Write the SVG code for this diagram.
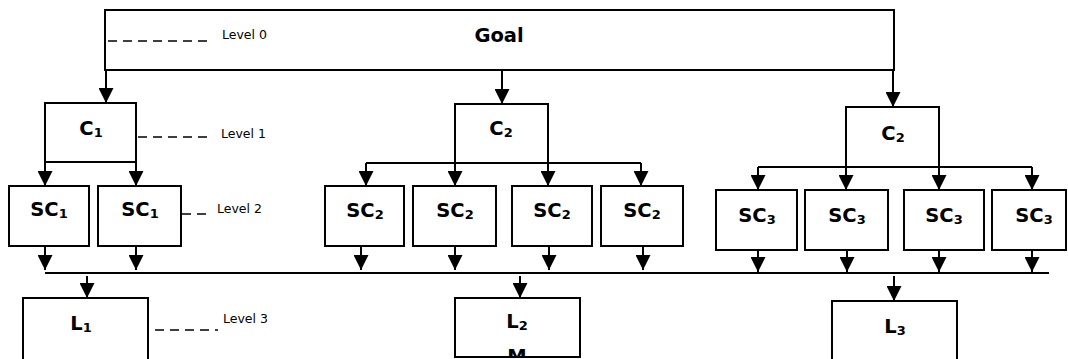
<svg xmlns="http://www.w3.org/2000/svg" width="1068" height="359" viewBox="0 0 1068 359">
<style>
.box{fill:#fff;stroke:#000;stroke-width:2}
.ln{fill:none;stroke:#000;stroke-width:2}
.arr{fill:none;stroke:#000;stroke-width:2;marker-end:url(#ah)}
.dash{fill:none;stroke:#000;stroke-width:1.6;stroke-dasharray:9,6}
.lbl{font-family:"DejaVu Sans",Verdana,sans-serif;font-weight:bold;font-size:19.5px;text-anchor:middle;fill:#000}
.sub{font-size:13px}
.lvl{font-family:"DejaVu Sans",Verdana,sans-serif;font-size:12.5px;fill:#000}
</style>
<defs>
<marker id="ah" markerUnits="userSpaceOnUse" markerWidth="15" markerHeight="15" refX="15" refY="7.5" orient="auto">
<path d="M0,0 L15,7.5 L0,15 z" fill="#000"/>
</marker>
<clipPath id="l2clip"><rect x="456" y="299" width="123" height="57"/></clipPath>
</defs>
<rect x="0" y="0" width="1068" height="359" fill="#fff"/>
<g id="connectors">
<line class="arr" x1="106" y1="70" x2="106" y2="103"/>
<line class="arr" x1="502" y1="70" x2="502" y2="104"/>
<line class="arr" x1="893" y1="70" x2="893" y2="107"/>
<line class="arr" x1="45" y1="162" x2="45" y2="186"/>
<line class="arr" x1="136" y1="162" x2="136" y2="186"/>
<line class="ln" x1="366" y1="163" x2="641" y2="163"/>
<line class="arr" x1="366" y1="163" x2="366" y2="186"/>
<line class="arr" x1="455" y1="163" x2="455" y2="186"/>
<line class="arr" x1="548" y1="163" x2="548" y2="186"/>
<line class="arr" x1="641" y1="163" x2="641" y2="186"/>
<line class="ln" x1="758" y1="167" x2="1032" y2="167"/>
<line class="arr" x1="758" y1="167" x2="758" y2="190"/>
<line class="arr" x1="846" y1="167" x2="846" y2="190"/>
<line class="arr" x1="939" y1="167" x2="939" y2="190"/>
<line class="arr" x1="1032" y1="167" x2="1032" y2="190"/>
<line class="arr" x1="45" y1="246" x2="45" y2="270"/>
<line class="arr" x1="136" y1="246" x2="136" y2="270"/>
<line class="arr" x1="361" y1="246" x2="361" y2="270"/>
<line class="arr" x1="455" y1="246" x2="455" y2="270"/>
<line class="arr" x1="549" y1="246" x2="549" y2="270"/>
<line class="arr" x1="643" y1="246" x2="643" y2="270"/>
<line class="arr" x1="758" y1="250" x2="758" y2="272"/>
<line class="arr" x1="847" y1="250" x2="847" y2="272"/>
<line class="arr" x1="939" y1="250" x2="939" y2="272"/>
<line class="arr" x1="1032" y1="250" x2="1032" y2="272"/>
<line class="ln" x1="45" y1="273" x2="1049" y2="273"/>
<line class="arr" x1="87" y1="276" x2="87" y2="298"/>
<line class="arr" x1="520" y1="276" x2="520" y2="298"/>
<line class="arr" x1="894" y1="276" x2="894" y2="301"/>
</g>
<g id="goal"><rect class="box" x="105" y="10" width="789" height="60"/><text class="lbl" x="499" y="42">Goal</text></g>
<g id="c1"><rect class="box" x="45" y="103" width="91" height="59"/><text class="lbl" x="91" y="135">C<tspan class="sub" dy="2">1</tspan></text></g>
<g id="c2a"><rect class="box" x="455" y="104" width="93" height="59"/><text class="lbl" x="501" y="135">C<tspan class="sub" dy="2">2</tspan></text></g>
<g id="c2b"><rect class="box" x="846" y="107" width="93" height="60"/><text class="lbl" x="893" y="140">C<tspan class="sub" dy="2">2</tspan></text></g>
<g id="sc1a"><rect class="box" x="9" y="186" width="80" height="60"/><text class="lbl" x="49" y="216">SC<tspan class="sub" dy="2">1</tspan></text></g>
<g id="sc1b"><rect class="box" x="98" y="186" width="83" height="60"/><text class="lbl" x="140" y="216">SC<tspan class="sub" dy="2">1</tspan></text></g>
<g id="sc2a"><rect class="box" x="325" y="186" width="79" height="60"/><text class="lbl" x="365" y="217">SC<tspan class="sub" dy="2">2</tspan></text></g>
<g id="sc2b"><rect class="box" x="413" y="186" width="83" height="60"/><text class="lbl" x="455" y="217">SC<tspan class="sub" dy="2">2</tspan></text></g>
<g id="sc2c"><rect class="box" x="512" y="186" width="80" height="60"/><text class="lbl" x="552" y="217">SC<tspan class="sub" dy="2">2</tspan></text></g>
<g id="sc2d"><rect class="box" x="601" y="186" width="82" height="60"/><text class="lbl" x="642" y="217">SC<tspan class="sub" dy="2">2</tspan></text></g>
<g id="sc3a"><rect class="box" x="716" y="190" width="81" height="60"/><text class="lbl" x="757" y="222">SC<tspan class="sub" dy="2">3</tspan></text></g>
<g id="sc3b"><rect class="box" x="805" y="190" width="83" height="60"/><text class="lbl" x="847" y="222">SC<tspan class="sub" dy="2">3</tspan></text></g>
<g id="sc3c"><rect class="box" x="904" y="190" width="80" height="60"/><text class="lbl" x="944" y="222">SC<tspan class="sub" dy="2">3</tspan></text></g>
<g id="sc3d"><rect class="box" x="992" y="190" width="74" height="60"/><text class="lbl" x="1034" y="222">SC<tspan class="sub" dy="2">3</tspan></text></g>
<g id="l1"><rect class="box" x="23" y="298" width="125" height="70"/><text class="lbl" x="81" y="330">L<tspan class="sub" dy="2">1</tspan></text></g>
<g id="l2"><rect class="box" x="455" y="298" width="125" height="59"/><text class="lbl" x="517" y="328">L<tspan class="sub" dy="2">2</tspan></text><text class="lbl" x="517" y="363" clip-path="url(#l2clip)">M</text></g>
<g id="l3"><rect class="box" x="832" y="301" width="125" height="70"/><text class="lbl" x="895" y="333">L<tspan class="sub" dy="2">3</tspan></text></g>
<g id="levels">
<line class="dash" x1="108" y1="41" x2="212" y2="41"/>
<text class="lvl" x="222" y="39">Level 0</text>
<line class="dash" x1="138" y1="137" x2="212" y2="137"/>
<text class="lvl" x="221" y="138">Level 1</text>
<line class="dash" x1="182" y1="214" x2="212" y2="214"/>
<text class="lvl" x="217" y="213">Level 2</text>
<line class="dash" x1="155" y1="330" x2="218" y2="330"/>
<text class="lvl" x="223" y="323">Level 3</text>
</g>
</svg>
